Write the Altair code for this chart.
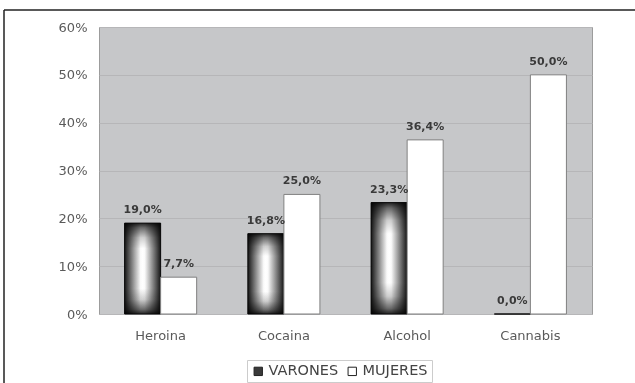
import altair as alt
import pandas as pd

categorias = ["Heroina", "Cocaina", "Alcohol", "Cannabis"]
series = ["VARONES", "MUJERES"]
varones = [19.0, 16.8, 23.3, 0.0]
mujeres = [7.7, 25.0, 36.4, 50.0]
y_ticks = [0, 10, 20, 30, 40, 50, 60]

rows = []
for c, v, m in zip(categorias, varones, mujeres):
    rows.append({"cat": c, "serie": "VARONES", "valor": v})
    rows.append({"cat": c, "serie": "MUJERES", "valor": m})
df = pd.DataFrame(rows)

FONT = "DejaVu Sans"

x = alt.X("cat:N", sort=categorias,
          scale=alt.Scale(paddingInner=0, paddingOuter=0),
          axis=alt.Axis(title=None, labelAngle=0, ticks=False, domain=False,
                        labelPadding=15, labelFontSize=13, labelColor="#5a5a5a",
                        labelFont=FONT, grid=False))
xo = alt.XOffset("serie:N", scale=alt.Scale(domain=series, paddingOuter=0.71, paddingInner=0))
y = alt.Y("valor:Q", scale=alt.Scale(domain=[0, 60], nice=False),
          axis=alt.Axis(values=y_ticks, labelExpr="datum.value + '%'", title=None,
                        ticks=False, domain=False, grid=True, gridColor="#b6b6b8",
                        labelPadding=12, labelFontSize=13, labelColor="#5a5a5a",
                        labelFont=FONT))

grad_h = alt.LinearGradient(
    gradient="linear", x1=0, y1=0, x2=1, y2=0,
    stops=[alt.GradientStop(offset=0, color="#151515"),
           alt.GradientStop(offset=0.1, color="#4a4a4a"),
           alt.GradientStop(offset=0.28, color="#a8a8a8"),
           alt.GradientStop(offset=0.44, color="#fafafa"),
           alt.GradientStop(offset=0.5, color="#ffffff"),
           alt.GradientStop(offset=0.56, color="#fafafa"),
           alt.GradientStop(offset=0.72, color="#a8a8a8"),
           alt.GradientStop(offset=0.9, color="#4a4a4a"),
           alt.GradientStop(offset=1, color="#151515")])
grad_v = alt.LinearGradient(
    gradient="linear", x1=0, y1=0, x2=0, y2=1,
    stops=[alt.GradientStop(offset=0, color="#222222"),
           alt.GradientStop(offset=0.05, color="#6a6a6a"),
           alt.GradientStop(offset=0.16, color="#d0d0d0"),
           alt.GradientStop(offset=0.28, color="#ffffff"),
           alt.GradientStop(offset=0.72, color="#ffffff"),
           alt.GradientStop(offset=0.84, color="#d0d0d0"),
           alt.GradientStop(offset=0.95, color="#6a6a6a"),
           alt.GradientStop(offset=1, color="#222222")])

base = alt.Chart(df)

bars_v = base.transform_filter("datum.serie == 'VARONES'").mark_bar(
    fill=grad_h, strokeWidth=0).encode(x=x, xOffset=xo, y=y)
bars_v2 = base.transform_filter("datum.serie == 'VARONES'").mark_bar(
    fill=grad_v, stroke="#111", strokeWidth=1, blend="multiply").encode(x=x, xOffset=xo, y=y)
bars_m = base.transform_filter("datum.serie == 'MUJERES'").mark_bar(
    fill="white", stroke="#808080", strokeWidth=1).encode(x=x, xOffset=xo, y=y)

labels = base.transform_calculate(
    lab="replace(format(datum.valor, '.1f'), '.', ',') + '%'"
).mark_text(baseline="bottom", dy=-8, fontWeight="bold", fontSize=11,
            color="#3a3a3a", font=FONT).encode(x=x, xOffset=xo, y=y, text="lab:N")

legend_layer = base.mark_square(opacity=0).encode(
    x=x, xOffset=xo, y=y,
    color=alt.Color("serie:N",
                    scale=alt.Scale(domain=series, range=["#3a3a3a", "#ffffff"]),
                    legend=alt.Legend(title=None, orient="none", legendX=148, legendY=333,
                                      direction="horizontal", symbolType="square",
                                      symbolSize=70, symbolStrokeColor="#222",
                                      symbolStrokeWidth=1, symbolOpacity=1,
                                      labelFontSize=14.5, labelColor="#444", labelFont=FONT,
                                      strokeColor="#cccccc", padding=4,
                                      columnPadding=6, labelOffset=3)))

frame_df = pd.DataFrame({"k": [0]})
frame_top = alt.Chart(frame_df).mark_rule(color="#222", strokeWidth=1.5).encode(
    x=alt.value(-95), x2=alt.value(700), y=alt.value(-17))
frame_left = alt.Chart(frame_df).mark_rule(color="#222", strokeWidth=1.5).encode(
    x=alt.value(-95), y=alt.value(-17), y2=alt.value(420))

chart = alt.layer(bars_v, bars_v2, bars_m, labels, legend_layer, frame_top, frame_left).properties(
    width=493, height=287,
    autosize=alt.AutoSizeParams(type="none"),
    padding={"left": 99, "top": 27, "right": 43, "bottom": 69},
    background="white",
).configure_view(fill="#c6c7c9", stroke="#9c9c9c", strokeWidth=1)

chart.save("out.html", embed_options={"renderer": "svg", "actions": False})
